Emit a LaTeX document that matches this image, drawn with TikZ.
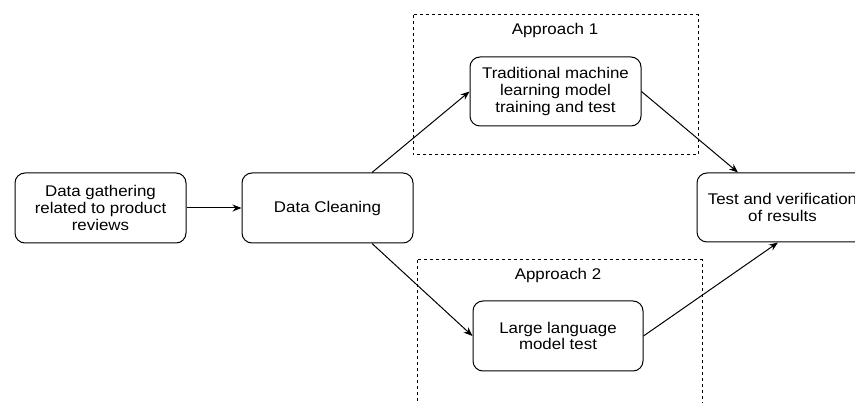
\documentclass[tikz,border=0pt]{standalone}
\usepackage{fontspec}
\setmainfont[FakeStretch=1.09]{Liberation Sans}
\usetikzlibrary{arrows.meta}
\begin{document}
\begin{tikzpicture}[x=1pt,y=-1pt,
  proc/.style={draw, line width=1pt, rounded corners=10pt, minimum width=171pt, minimum height=70pt,
    align=center, font=\fontsize{15.5}{16.7}\selectfont, inner sep=0pt},
  grp/.style={draw, line width=1pt, dash pattern=on 3pt off 3pt},
  conn/.style={line width=1pt, -{Stealth[length=9pt,width=7pt]}},
  lbl/.style={font=\fontsize{15.5}{16.7}\selectfont}]
\useasboundingbox (0,0) rectangle (855,403);
\clip (0,0) rectangle (855,403);
\draw[grp] (413,15) rectangle (698,155);
\draw[grp] (417,260) rectangle (702,430);
\node[lbl] (a1) at (555,30) {Approach 1};
\node[lbl] (a2) at (558,275) {Approach 2};
\node[proc] (gather) at (100.5,208) {Data gathering\\related to product\\reviews};
\node[proc] (clean) at (327.5,208) {Data Cleaning};
\node[proc, minimum height=69pt] (trad) at (555.5,91.5) {Traditional machine\\learning model\\training and test};
\node[proc, minimum width=170pt] (llm) at (558,336) {Large language\\model test};
\node[proc, minimum width=171pt, minimum height=69pt] (test) at (782.5,207.5) {Test and verification\\of results};
\draw[conn] (gather) -- (clean);
\draw[conn] ([xshift=44.5pt]clean.north) -- (trad.west);
\draw[conn] ([xshift=44.5pt]clean.south) -- (llm.west);
\draw[conn] (trad.east) -- ([xshift=-44.5pt]test.north);
\draw[conn] (llm.east) -- ([xshift=-4.5pt]test.south);
\end{tikzpicture}
\end{document}
